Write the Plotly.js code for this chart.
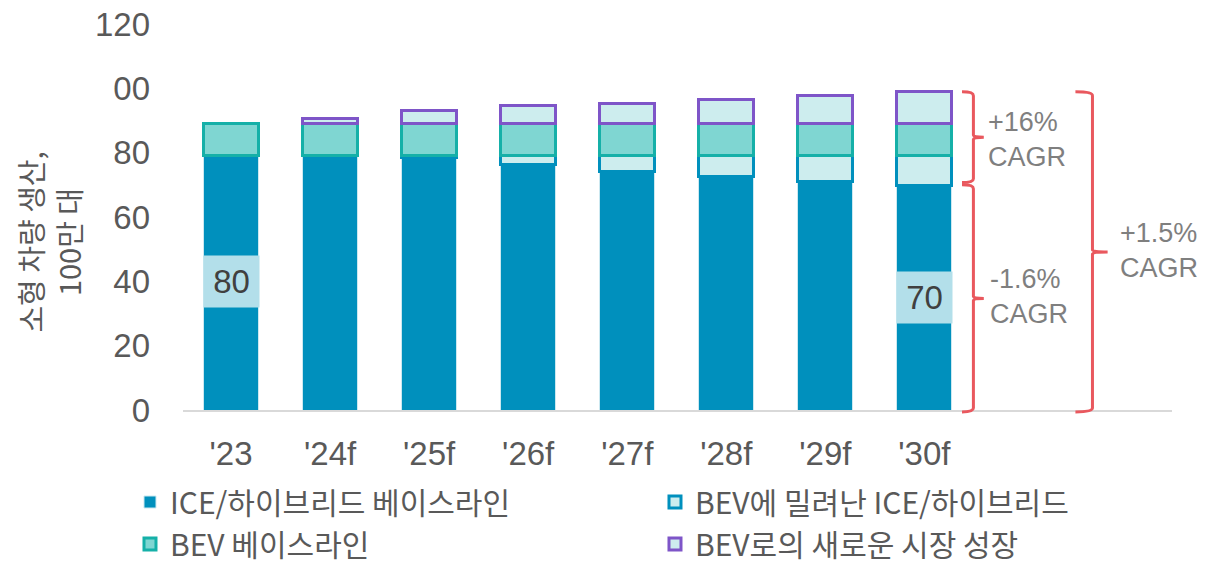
<!DOCTYPE html>
<html><head><meta charset="utf-8">
<script src="https://cdn.plot.ly/plotly-3.0.1.min.js"></script>
<style>html,body{margin:0;padding:0;background:#fff}#chart{width:1214px;height:565px}</style>
</head><body><div id="chart"></div>
<script>
const categories = ["'23", "'24f", "'25f", "'26f", "'27f", "'28f", "'29f", "'30f"];
const iceBaseline = [79, 79, 78.5, 76.2, 74.3, 72.6, 71, 69.7];
const iceDisplaced = [null, null, 0.5, 2.8, 4.7, 6.4, 8, 9.3];
const bevBaseline = [10, 10, 10, 10, 10, 10, 10, 10];
const bevGrowth = [null, 1.7, 4, 5.6, 6.2, 7.4, 8.7, 9.9];
const seriesNames = ['ICE/하이브리드 베이스라인', 'BEV에 밀려난 ICE/하이브리드', 'BEV 베이스라인', 'BEV로의 새로운 시장 성장'];
const yTickValues = [0, 20, 40, 60, 80, 100, 120];
const yTickLabels = ['0', '20', '40', '60', '80', '00', '120'];
const valueLabelText = ['80', '70'];
const valueLabelIndex = [0, 7];
const valueLabelY = [40, 35];
const cagrText = ['+16%<br>CAGR', '-1.6%<br>CAGR', '+1.5%<br>CAGR'];
const yTitle = '소형 차량 생산,<br>100만 대';

const xIdx = categories.map((c, i) => i);
const BW = 0.555;
const Y_MAX = 120;
const fillColors = ['#0090BD', '#CDEDEE', '#7FD6D2', '#CDEDEE'];
const lineColors = ['#CBE8F0', '#0090BD', '#15B0A8', '#7E55C8'];
const lineWidths = [1, 3, 3, 3];
const seriesData = [iceBaseline, iceDisplaced, bevBaseline, bevGrowth];

const traces = seriesData.map((vals, k) => ({
  type: 'bar', x: xIdx, y: vals, name: seriesNames[k], width: BW,
  marker: {color: fillColors[k], line: {color: lineColors[k], width: lineWidths[k]}},
  hoverinfo: 'skip'
}));

const last = categories.length - 1;
const total = (i) => seriesData.reduce((s, arr) => s + (arr[i] || 0), 0);
const topY = total(last);
const splitY = iceBaseline[last] + 0.6;

// brace path: x in data units, y converted to paper units (so it is not clipped at the axis)
function brace(xh, xv, xt, y0, y1) {
  const p = (v) => v / Y_MAX;
  const r = 1.2, ym = (y0 + y1) / 2;
  return `M ${xh},${p(y1)} Q ${xv},${p(y1)} ${xv},${p(y1 - r)} L ${xv},${p(ym + 0.6)} Q ${xv},${p(ym)} ${xt},${p(ym)} Q ${xv},${p(ym)} ${xv},${p(ym - 0.6)} L ${xv},${p(y0 + r)} Q ${xv},${p(y0)} ${xh},${p(y0)}`;
}
const red = '#E9585E';
const shapes = [
  {type: 'path', xref: 'x', yref: 'paper', path: brace(7.38, 7.495, 7.6, splitY + 0.4, topY), line: {color: red, width: 3}},
  {type: 'path', xref: 'x', yref: 'paper', path: brace(7.38, 7.495, 7.6, -0.6, splitY - 0.3), line: {color: red, width: 3}},
  {type: 'path', xref: 'x', yref: 'paper', path: brace(8.525, 8.697, 8.85, -0.6, topY), line: {color: red, width: 3}}
];

const annotations = [];
valueLabelText.forEach((t, k) => {
  annotations.push({x: valueLabelIndex[k], y: valueLabelY[k], xref: 'x', yref: 'y', text: t, showarrow: false,
    bgcolor: '#B3DFEA', width: 55, height: 51, borderpad: 0,
    font: {family: 'Liberation Sans, Arial, sans-serif', size: 33, color: '#404040'}});
});
const cagrX = [7.62, 7.64, 8.95];
const cagrY = [(splitY + topY) / 2 - 0.6, splitY / 2, topY / 2];
cagrText.forEach((t, k) => {
  annotations.push({x: cagrX[k], y: cagrY[k], xref: 'x', yref: 'y', text: t, showarrow: false,
    xanchor: 'left', yanchor: 'middle', align: 'left',
    font: {family: 'Liberation Sans, Arial, sans-serif', size: 27, color: '#7F7F7F'}});
});
annotations.push({x: -0.135, y: 0.435, xref: 'paper', yref: 'paper', text: yTitle, showarrow: false,
  textangle: -90, xanchor: 'center', yanchor: 'middle', align: 'center',
  font: {family: 'Noto Sans CJK KR, sans-serif', size: 29, color: '#595959'}});

const layout = {
  width: 1214, height: 565,
  margin: {l: 183, r: 42, t: 24, b: 155, autoexpand: false},
  paper_bgcolor: '#fff', plot_bgcolor: '#fff',
  barmode: 'stack', showlegend: true,
  font: {family: 'Liberation Sans, Arial, sans-serif', color: '#595959'},
  xaxis: {range: [-0.485, 9.5], tickvals: xIdx, ticktext: categories, showgrid: false, zeroline: false,
    showline: true, linecolor: '#D9D9D9', linewidth: 2, ticks: '', ticklabelstandoff: 13,
    tickfont: {size: 33, color: '#595959'}, fixedrange: true, automargin: false},
  yaxis: {range: [0, Y_MAX], tickvals: yTickValues, ticktext: yTickLabels, showgrid: false, zeroline: false,
    showline: false, ticks: '', ticklabelstandoff: 32, tickfont: {size: 33, color: '#595959'}, fixedrange: true, automargin: false},
  legend: {orientation: 'h', x: -0.0536, y: -0.171, xanchor: 'left', yanchor: 'top', traceorder: 'normal',
    entrywidth: 480, entrywidthmode: 'pixels',
    font: {family: 'Noto Sans CJK KR, sans-serif', size: 30, color: '#595959'}},
  shapes: shapes, annotations: annotations
};
Plotly.newPlot('chart', traces, layout, {displayModeBar: false, staticPlot: true});
</script></body></html>
